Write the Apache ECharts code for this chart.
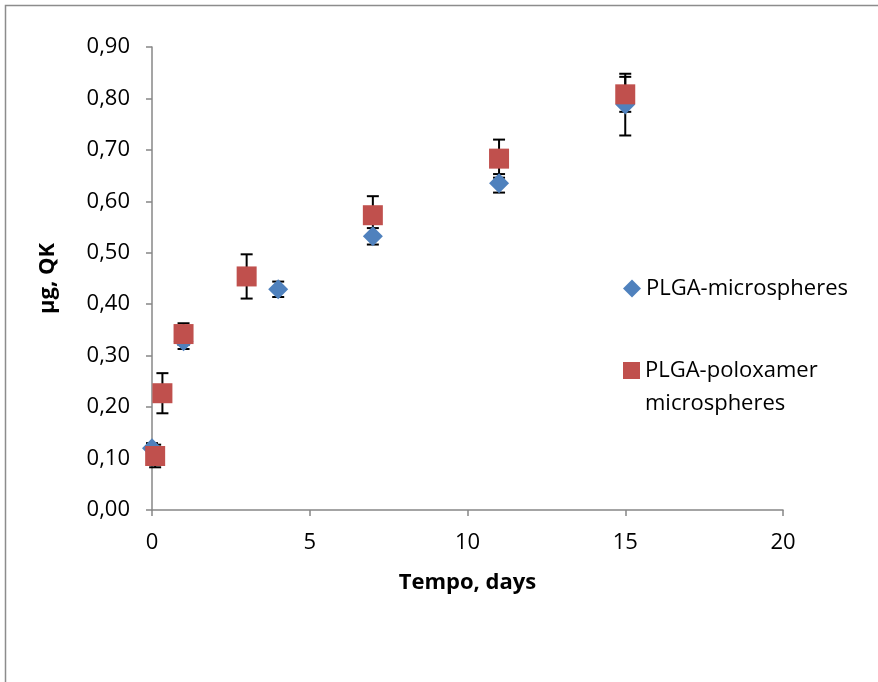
<!DOCTYPE html>
<html>
<head>
<meta charset="utf-8">
<script src="https://cdn.jsdelivr.net/npm/echarts@6/dist/echarts.min.js"></script>
<style>
  html, body { margin: 0; padding: 0; background: #fff; }
  #chart { width: 878px; height: 682px; }
</style>
</head>
<body>
<div id="chart"></div>
<script>
// Release of QK from the two microsphere formulations (µg) over time (days)
const seriesNames = ['PLGA-microspheres', 'PLGA-poloxamer microspheres'];

// PLGA-microspheres
const plgaDays   = [0, 1, 4, 7, 11, 15];
const plgaValues = [0.120, 0.328, 0.429, 0.532, 0.635, 0.788];
const plgaErrors = [0.010, 0.015, 0.015, 0.016, 0.018, 0.060];

// PLGA-poloxamer microspheres
const poloxDays   = [0.1, 0.33, 1, 3, 7, 11, 15];
const poloxValues = [0.105, 0.227, 0.342, 0.454, 0.573, 0.683, 0.808];
const poloxErrors = [0.022, 0.039, 0.021, 0.043, 0.037, 0.037, 0.034];

const yTicks = [0, 0.1, 0.2, 0.3, 0.4, 0.5, 0.6, 0.7, 0.8, 0.9];
const xTicks = [0, 5, 10, 15, 20];

const FONT = '"Open Sans", "Noto Sans", sans-serif';
const AXIS_GRAY = '#878787';

const points = (xs, ys) => xs.map((x, i) => [x, ys[i]]);
const errorRows = (xs, ys, es) => xs.map((x, i) => [x, ys[i] - es[i], ys[i] + es[i]]);

// Vertical error bar with horizontal caps at both ends
function renderErrorBar(params, api) {
  const x = api.value(0);
  const lo = api.coord([x, api.value(1)]);
  const hi = api.coord([x, api.value(2)]);
  const half = 6;
  const style = { stroke: '#000', lineWidth: 2, fill: null };
  return {
    type: 'group',
    children: [
      { type: 'line', shape: { x1: lo[0], y1: lo[1], x2: hi[0], y2: hi[1] }, style },
      { type: 'line', shape: { x1: hi[0] - half, y1: hi[1], x2: hi[0] + half, y2: hi[1] }, style },
      { type: 'line', shape: { x1: lo[0] - half, y1: lo[1], x2: lo[0] + half, y2: lo[1] }, style }
    ]
  };
}

const chart = echarts.init(document.getElementById('chart'), null, { renderer: 'canvas' });

chart.setOption({
  animation: false,
  backgroundColor: '#fff',
  textStyle: { fontFamily: FONT },
  graphic: [{
    type: 'rect',
    shape: { x: 5.5, y: 5.5, width: 1200, height: 1200 },
    style: { fill: null, stroke: '#8c8c8c', lineWidth: 1.5 },
    silent: true,
    z: -10
  }],
  grid: { left: 152, right: 95, top: 47, bottom: 172, containLabel: false },
  xAxis: {
    type: 'value',
    min: xTicks[0],
    max: xTicks[xTicks.length - 1],
    interval: xTicks[1] - xTicks[0],
    name: 'Tempo, days',
    nameLocation: 'middle',
    nameGap: 62,
    nameTextStyle: { fontFamily: FONT, fontSize: 22, fontWeight: 'bold', color: '#000' },
    axisLine: { onZero: false, lineStyle: { color: AXIS_GRAY, width: 1.5 } },
    axisTick: { show: true, inside: false, length: 6, lineStyle: { color: AXIS_GRAY, width: 1.5 } },
    axisLabel: { margin: 22, fontFamily: FONT, fontSize: 22, color: '#000' },
    splitLine: { show: false }
  },
  yAxis: {
    type: 'value',
    min: yTicks[0],
    max: yTicks[yTicks.length - 1],
    interval: 0.1,
    name: 'µg, QK',
    nameLocation: 'middle',
    nameGap: 93,
    nameTextStyle: { fontFamily: FONT, fontSize: 22, fontWeight: 'bold', color: '#000' },
    axisLine: { show: true, onZero: false, lineStyle: { color: AXIS_GRAY, width: 1.5 } },
    axisTick: { show: true, inside: false, length: 6, lineStyle: { color: AXIS_GRAY, width: 1.5 } },
    axisLabel: {
      margin: 22,
      fontFamily: FONT,
      fontSize: 22,
      color: '#000',
      formatter: v => v.toFixed(2).replace('.', ',')
    },
    splitLine: { show: false }
  },
  legend: [{
    orient: 'vertical',
    left: 623,
    top: 272,
    padding: 0,
    itemWidth: 18,
    itemHeight: 18,
    data: [{ name: seriesNames[0], icon: 'diamond' }],
    textStyle: { fontFamily: FONT, fontSize: 22, color: '#000', lineHeight: 33 }
  }, {
    orient: 'vertical',
    left: 623,
    top: 321,
    padding: 0,
    itemWidth: 17,
    itemHeight: 17,
    data: [{ name: seriesNames[1], icon: 'rect' }],
    // empty first line keeps the first text line level with the square
    formatter: () => '\nPLGA-poloxamer\nmicrospheres',
    textStyle: { fontFamily: FONT, fontSize: 22, color: '#000', lineHeight: 33 }
  }],
  series: [
    {
      name: seriesNames[0] + ' error',
      type: 'custom',
      renderItem: renderErrorBar,
      data: errorRows(plgaDays, plgaValues, plgaErrors),
      encode: { x: 0, y: [1, 2] },
      z: 1,
      silent: true
    },
    {
      name: seriesNames[1] + ' error',
      type: 'custom',
      renderItem: renderErrorBar,
      data: errorRows(poloxDays, poloxValues, poloxErrors),
      encode: { x: 0, y: [1, 2] },
      z: 1,
      silent: true
    },
    {
      name: seriesNames[0],
      type: 'scatter',
      symbol: 'diamond',
      symbolSize: 20,
      itemStyle: { color: '#4F81BD', opacity: 1 },
      data: points(plgaDays, plgaValues),
      z: 3
    },
    {
      name: seriesNames[1],
      type: 'scatter',
      symbol: 'rect',
      symbolSize: 20,
      itemStyle: { color: '#C0504D', opacity: 1 },
      data: points(poloxDays, poloxValues),
      z: 4
    }
  ]
});
</script>
</body>
</html>
